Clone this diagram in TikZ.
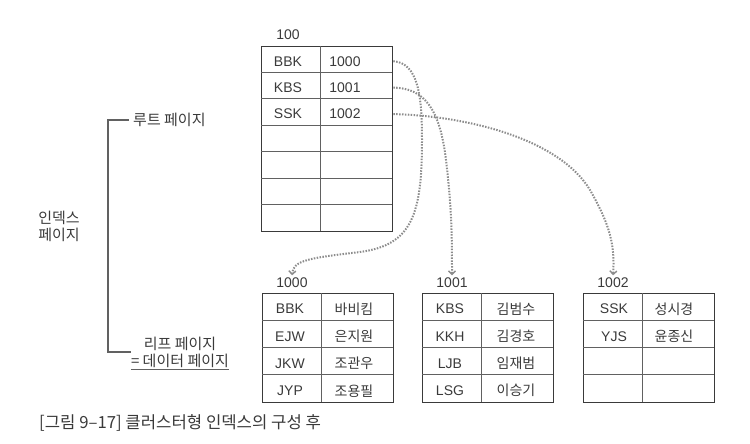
\documentclass[tikz,border=0pt]{standalone}
\usepackage{fontspec}
\setmainfont{Liberation Sans}
\newfontfamily\kr{Noto Sans CJK KR}
\usetikzlibrary{arrows.meta}
\definecolor{ink}{HTML}{3A3A3A}
\definecolor{dots}{HTML}{8C8C8C}

\begin{document}
\begin{tikzpicture}[x=1pt,y=-1pt,
    txt/.style={text=ink,font=\fontsize{14}{16}\selectfont,inner sep=0pt},
    han/.style={text=ink,font=\kr\fontsize{14}{16}\selectfont,inner sep=0pt},
    lbl/.style={text=ink,font=\kr\fontsize{15}{17}\selectfont,inner sep=0pt},
    outer/.style={draw=ink,line width=1.3pt,minimum width=131pt,inner sep=0pt},
    grid/.style={draw=ink!80,line width=.8pt},
    ptr/.style={dots,line width=2pt,dash pattern=on 1.5pt off 1.4pt,shorten >=1pt,
      -{Straight Barb[length=3.5pt,width=7pt,line width=1.4pt]}},
    brk/.style={draw=ink!80,line width=1.2pt}]
    \useasboundingbox (0,0) rectangle (750,444);

    \node[txt] (p100) at (288,35) {100};
    \node[outer,minimum height=185pt,anchor=north west] (root) at (261,46) {};
    \draw[grid] (root.north west) ++(59,0) -- ++(0,185);
    \foreach \i in {1,...,6}
        \draw[grid] (root.north west) ++(0,\i*26.43) -- ++(131,0);
    \foreach \k/\v [count=\i] in {BBK/1000,KBS/1001,SSK/1002} {
        \node[txt] (rk\i) at (288,61.2+26.43*\i-26.43) {\k};
        \node[txt] (rv\i) at (345,61.2+26.43*\i-26.43) {\v};
    }

    \foreach \p/\lx in {1000/262,1001/422,1002/583} {
        \node[outer,minimum height=109pt,anchor=north west] (t\p) at (\lx,293) {};
        \draw[grid] (t\p.north west) ++(59,0) -- ++(0,109);
        \foreach \i in {1,2,3}
            \draw[grid] (t\p.north west) ++(0,\i*27.25) -- ++(131,0);
        \node[txt,inner sep=1.5pt] (p\p) at (\lx+30,283) {\p};
    }
    \foreach \k/\v [count=\i] in {BBK/바비킴,EJW/은지원,JKW/조관우,JYP/조용필} {
        \node[txt] (ak\i) at (290,309+27.25*\i-27.25) {\k};
        \node[han] (av\i) at (354,309+27.25*\i-27.25) {\v};
    }
    \foreach \k/\v [count=\i] in {KBS/김범수,KKH/김경호,LJB/임재범,LSG/이승기} {
        \node[txt] (bk\i) at (450,309+27.25*\i-27.25) {\k};
        \node[han] (bv\i) at (516,309+27.25*\i-27.25) {\v};
    }
    \foreach \k/\v [count=\i] in {SSK/성시경,YJS/윤종신} {
        \node[txt] (ck\i) at (614,309+27.25*\i-27.25) {\k};
        \node[han] (cv\i) at (674,309+27.25*\i-27.25) {\v};
    }

    \draw[ptr] (root.east |- rv1) .. controls (418,63) and (422,95) .. (422,140)
        .. controls (422,215) and (412,245) .. (360,252)
        .. controls (310,258) and (293,260) .. (p1000.north);
    \draw[ptr] (root.east |- rv2) .. controls (425,88) and (440,110) .. (446,160)
        .. controls (452,210) and (452,240) .. (p1001.north);
    \draw[ptr] (root.east |- rv3) .. controls (470,116) and (560,140) .. (590,190)
        .. controls (610,225) and (615,245) .. (p1002.north);

    \node[lbl,anchor=west] (rootlbl) at (133,120) {루트 페이지};
    \node[lbl,align=center] (leaflbl) at (180,352) {리프 페이지\\= 데이터 페이지};
    \node[lbl,align=center] (idxlbl) at (59,226) {인덱스\\페이지};
    \draw[brk,shorten <=4pt] (rootlbl.west) -- ++(-25,0) |- (leaflbl.west);
    \draw[brk] ([yshift=-2pt]leaflbl.south west) -- ([yshift=-2pt]leaflbl.south east);

    \node[lbl,anchor=west,font=\kr\fontsize{16.7}{18}\selectfont] (cap) at (39,423)
        {[그림 9–17] 클러스터형 인덱스의 구성 후};
\end{tikzpicture}
\end{document}
